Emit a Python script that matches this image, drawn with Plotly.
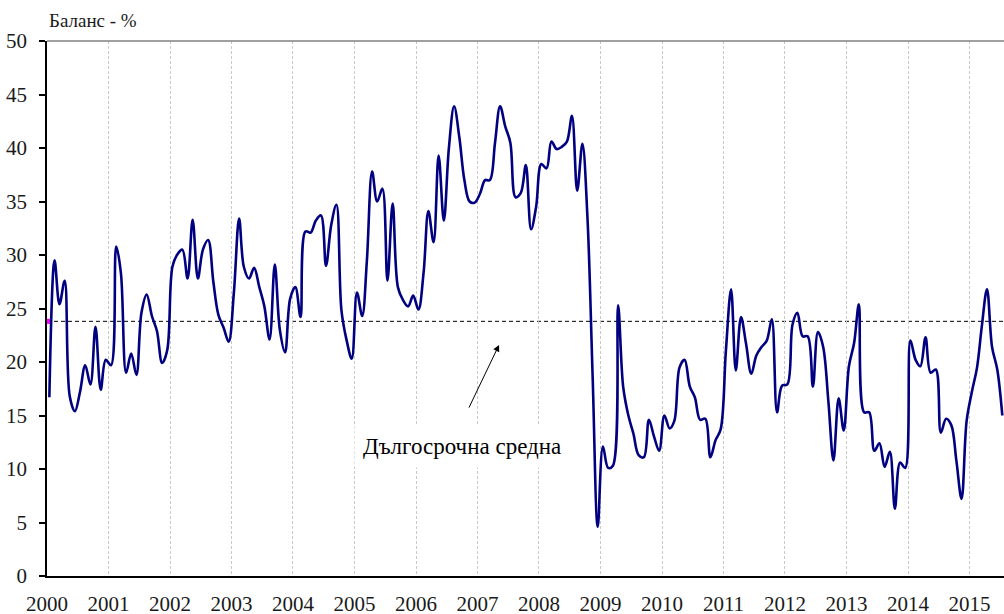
import plotly.graph_objects as go
import pandas as pd

# ---- data (monthly balance, %) ----
year_labels = [str(y) for y in range(2000, 2016)]
balance = [
    16.7, 29.5, 25.4, 27.6, 16.8, 15.4, 17.2, 19.7, 17.9, 23.3, 17.4, 20.2,   # 2000
    19.7, 30.8, 28.3, 19.0, 20.8, 18.8, 24.6, 26.3, 24.3, 22.9, 19.9, 21.1,   # 2001
    28.9, 30.1, 30.5, 27.8, 33.3, 27.8, 30.5, 31.4, 27.5, 24.4, 23.2, 21.9,   # 2002
    26.5, 33.4, 28.9, 27.8, 28.8, 27.0, 25.2, 22.1, 29.1, 23.0, 20.9, 25.9,   # 2003
    27.0, 24.2, 32.2, 32.1, 33.2, 33.7, 29.0, 32.8, 34.7, 24.8, 22.0, 20.3,   # 2004
    26.5, 24.3, 29.5, 37.8, 35.0, 36.2, 27.6, 34.8, 27.0, 25.8, 25.2, 26.2,   # 2005
    24.9, 28.4, 34.1, 31.2, 39.3, 33.2, 40.0, 43.9, 41.0, 37.0, 35.0, 34.9,   # 2006
    35.7, 37.0, 37.0, 40.5, 43.9, 42.0, 40.5, 35.4, 35.8, 38.4, 32.4, 34.5,   # 2007
    38.5, 38.1, 40.6, 39.9, 40.1, 40.6, 43.0, 36.0, 40.4, 33.5, 18.5, 4.6,    # 2008
    12.1, 10.1, 10.3, 25.3, 17.7, 15.0, 13.3, 11.3, 11.1, 14.6, 13.0, 11.7,   # 2009
    15.0, 13.8, 14.5, 19.5, 20.2, 17.7, 16.7, 14.6, 14.7, 11.1, 12.7, 13.7,   # 2010
    21.0, 26.8, 19.2, 24.2, 21.7, 18.9, 20.6, 21.4, 22.0, 24.0, 15.3, 17.8,   # 2011
    17.9, 23.5, 24.6, 22.4, 22.4, 17.7, 22.8, 21.4, 16.3, 10.8, 16.6, 13.6,   # 2012
    19.6, 21.8, 25.4, 15.3, 15.3, 11.7, 12.4, 10.2, 11.6, 6.3, 10.6, 10.1,    # 2013
    22.0, 20.2, 19.6, 22.3, 19.0, 19.3, 13.4, 14.7, 14.1, 10.8, 7.2, 14.5,    # 2014
    17.2, 19.5, 23.3, 26.8, 21.4, 19.3, 15.0,                                 # 2015
]
long_term_avg = 23.8
y_title = "Баланс - %"
note_text = "Дългосрочна средна"

dates = pd.date_range("2000-01-01", periods=len(balance), freq="MS") + pd.Timedelta(days=14)
tick_dates = [f"{y}-01-01" for y in year_labels]

FONT = "Liberation Serif"

fig = go.Figure()

# long-term average marker (magenta) at start
fig.add_trace(go.Scatter(
    x=[dates[0]], y=[long_term_avg], mode="markers",
    marker=dict(symbol="square", size=5, color="#ff00ff"),
    showlegend=False, hoverinfo="skip", cliponaxis=False,
))

fig.add_trace(go.Scatter(
    x=dates, y=balance, mode="lines",
    line=dict(color="#000080", width=2.6, shape="spline", smoothing=1.0),
    showlegend=False,
))

# long-term average dashed line
fig.add_shape(type="line", xref="paper", x0=0, x1=1, yref="y",
              y0=long_term_avg, y1=long_term_avg,
              line=dict(color="black", width=1, dash="4px,3px"), layer="below")
# top border (gray)
fig.add_shape(type="line", xref="paper", x0=0, x1=1, yref="paper", y0=1, y1=1,
              line=dict(color="#808080", width=1.5))

# note text with white box
fig.add_annotation(x="2006-09-28", y=12.1, xref="x", yref="y", text=note_text,
                   showarrow=False, font=dict(family=FONT, size=23, color="black"),
                   bgcolor="white", borderpad=8)
# arrow
fig.add_annotation(x="2007-05-09", y=21.6, ax="2006-11-07", ay=15.6,
                   xref="x", yref="y", axref="x", ayref="y", text="",
                   showarrow=True, arrowhead=2, arrowsize=1.3, arrowwidth=1,
                   arrowcolor="black")
# y title
fig.add_annotation(x=0, y=1, xref="paper", yref="paper", xanchor="left", yanchor="bottom",
                   yshift=8, xshift=0, text=y_title, showarrow=False,
                   font=dict(family=FONT, size=19, color="#1a1a1a"))

fig.update_layout(
    width=1004, height=614,
    margin=dict(l=47, r=0, t=41, b=38, autoexpand=False),
    plot_bgcolor="white", paper_bgcolor="white",
    font=dict(family=FONT, size=20, color="#1a1a1a"),
    xaxis=dict(
        type="date", range=["2000-01-01", "2015-07-25"],
        tickvals=tick_dates, ticktext=year_labels,
        ticks="", ticklabelstandoff=8, automargin=False,
        showgrid=True, gridcolor="#c8c8c8", gridwidth=1, griddash="3px,2px",
        showline=True, linecolor="black", linewidth=1.5, zeroline=False,
        tickfont=dict(family=FONT, size=21, color="#1a1a1a"),
    ),
    yaxis=dict(
        range=[0, 50], tick0=0, dtick=5, automargin=False,
        ticks="outside", ticklen=6, tickwidth=1.5, tickcolor="black",
        ticklabelstandoff=8,
        showgrid=False, zeroline=False,
        showline=True, linecolor="black", linewidth=1.5,
        tickfont=dict(family=FONT, size=21, color="#1a1a1a"),
    ),
)

# remove the default page margin so the 1004x614 figure fills the window exactly
fig.write_html(
    "out.html",
    config={"displayModeBar": False},
    post_script="document.body.style.margin='0';document.body.style.overflow='hidden';",
)
